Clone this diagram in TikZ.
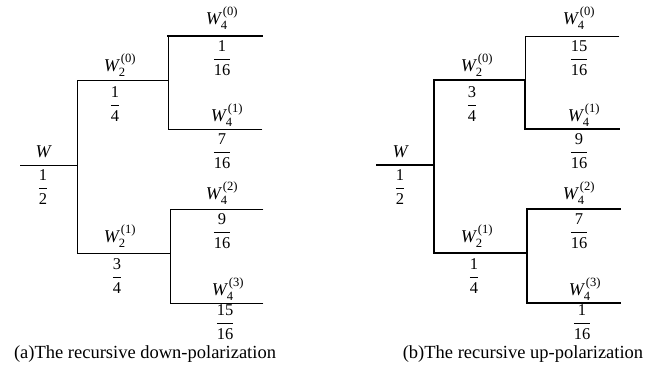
\documentclass[tikz,border=0pt]{standalone}
\usepackage{amsmath}
\usepackage{fontspec}
\setmainfont{Liberation Serif}
\usepackage{tikz}
\usetikzlibrary{positioning}

\newcommand{\chanlab}[2]{$\textit{W}_{\textrm{#1}}^{\,\textrm{(#2)}}$}
\newcommand{\problab}[2]{$\dfrac{\textrm{#1}}{\textrm{#2}}$}

\tikzset{
  branch/.style={line width=0.9pt, line cap=rect},
  heavy/.style={line width=1.7pt, line cap=rect},
  chan/.style={font=\fontsize{18}{20}\selectfont, inner sep=0pt},
  prob/.style={font=\fontsize{16.5}{19}\selectfont, inner sep=0pt},
  caption/.style={font=\fontsize{18.5}{22}\selectfont, inner sep=0pt},
}

\begin{document}
\begin{tikzpicture}[x=1pt, y=-1pt]
  \useasboundingbox (0,0) rectangle (652,368);

  % tree points, one panel per shift
  \foreach \p/\ox in {a/0, b/357} {
    \coordinate (\p-in) at (\ox+20,165);
    \coordinate (\p-j)  at (\ox+77,165);
    \coordinate (\p-jt) at (\ox+77,80);
    \coordinate (\p-jb) at (\ox+77,253);
    \coordinate (\p-u)  at (\ox+168,80);
    \coordinate (\p-d)  at (\ox+170,253);
    \coordinate (\p-ut) at (\ox+168,36);
    \coordinate (\p-ub) at (\ox+168,129);
    \coordinate (\p-dt) at (\ox+170,209);
    \coordinate (\p-db) at (\ox+170,303);
    \coordinate (\p-o0) at (\ox+262,36);
    \coordinate (\p-o1) at (\ox+262,129);
    \coordinate (\p-o2) at (\ox+263,209);
    \coordinate (\p-o3) at (\ox+263,303);
  }

  % (a) down-polarization
  \draw[branch] (a-in) -- (a-j);
  \draw[branch] (a-jt) -- (a-jb);
  \draw[branch] (a-jt) -- (a-u);
  \draw[branch] (a-jb) -- (a-d);
  \draw[branch] (a-ut) -- (a-ub);
  \draw[branch] (a-dt) -- (a-db);
  \draw[heavy]  (a-ut) -- (a-o0);
  \draw[branch] (a-ub) -- (a-o1);
  \draw[branch] (a-dt) -- (a-o2);
  \draw[branch] (a-db) -- (a-o3);

  % (b) up-polarization
  \draw[heavy]  (b-in) -- (b-j);
  \draw[heavy]  (b-jt) -- (b-jb);
  \draw[heavy]  (b-jt) -- (b-u);
  \draw[heavy]  (b-jb) -- (b-d);
  \draw[branch] (b-ut) -- (b-u);
  \draw[heavy]  (b-u) -- (b-ub);
  \draw[heavy]  (b-dt) -- (b-db);
  \draw[branch] (b-ut) -- (b-o0);
  \draw[heavy]  (b-ub) -- (b-o1);
  \draw[heavy]  (b-dt) -- (b-o2);
  \draw[heavy]  (b-db) -- (b-o3);

  % channel names and probabilities
  \foreach \p/\ox/\na/\nb/\nc/\nd/\ne/\nf in {a/0/1/3/1/7/9/15, b/357/3/1/15/9/7/1} {
    \node[chan] (\p-w) at (\ox+43,152) {$\textit{W}$};
    \node[prob] (\p-pw) at (\ox+43,187) {\problab{1}{2}};
    \node[chan] (\p-w20) at (\ox+120,65)  {\chanlab{2}{0}};
    \node[chan] (\p-w21) at (\ox+120,236) {\chanlab{2}{1}};
    \node[prob] (\p-p20) at (\ox+115,104) {\problab{\na}{4}};
    \node[prob] (\p-p21) at (\ox+117,276) {\problab{\nb}{4}};
    \foreach \i/\x/\y in {0/222/18, 1/227/115, 2/222/193, 3/228/289}
      \node[chan] (\p-w4\i) at (\ox+\x,\y) {\chanlab{4}{\i}};
    \node[prob] (\p-p40) at (\ox+222,58)  {\problab{\nc}{16}};
    \node[prob] (\p-p41) at (\ox+222,151) {\problab{\nd}{16}};
    \node[prob] (\p-p42) at (\ox+222,231) {\problab{\ne}{16}};
    \node[prob] (\p-p43) at (\ox+225,322) {\problab{\nf}{16}};
  }

  \node[caption] (a-cap) at (145,354) {(a)The recursive down-polarization};
  \node[caption] (b-cap) at (523,354) {(b)The recursive up-polarization};
\end{tikzpicture}
\end{document}
